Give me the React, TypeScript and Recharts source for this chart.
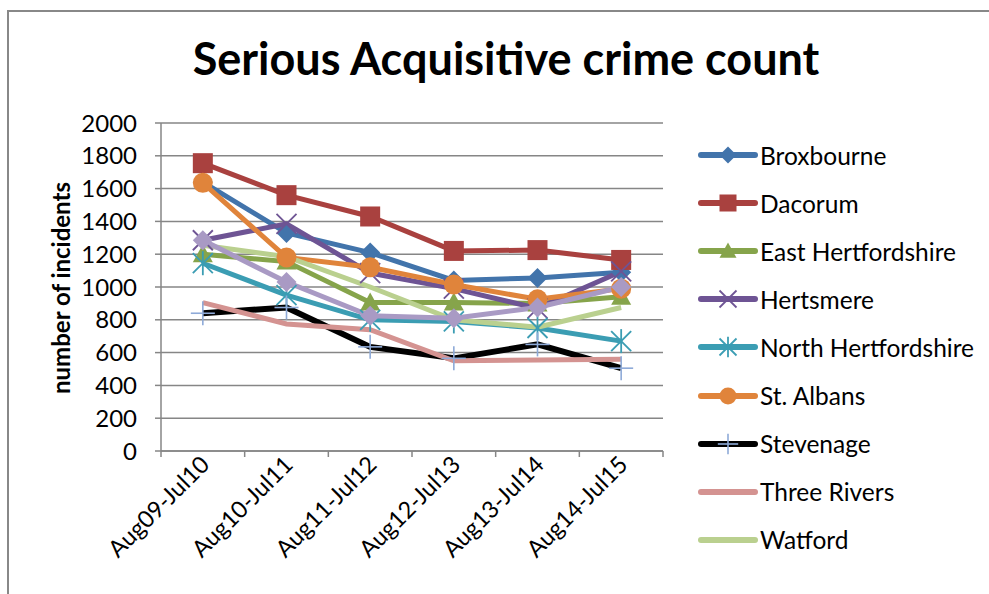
import React from 'react';
import { LineChart, Line, XAxis, YAxis, CartesianGrid } from 'recharts';

// categories and values
const periods = ['Aug09-Jul10', 'Aug10-Jul11', 'Aug11-Jul12', 'Aug12-Jul13', 'Aug13-Jul14', 'Aug14-Jul15'];
const yTicks = [0, 200, 400, 600, 800, 1000, 1200, 1400, 1600, 1800, 2000];

const broxbourne = [1640, 1330, 1210, 1040, 1055, 1090];
const dacorum = [1755, 1560, 1430, 1220, 1225, 1165];
const eastHerts = [1200, 1155, 905, 905, 900, 940];
const hertsmere = [1285, 1385, 1085, 990, 870, 1095];
const northHerts = [1145, 950, 800, 790, 750, 670];
const stAlbans = [1635, 1180, 1120, 1015, 925, 990];
const stevenage = [840, 875, 635, 565, 650, 505];
const threeRivers = [905, 775, 740, 550, 555, 560];
const watford = [1255, 1185, 1000, 800, 755, 875];
const welwynHatfield = [1285, 1030, 825, 810, 875, 1000];

type Shape = 'diamond' | 'square' | 'triangle' | 'x' | 'star' | 'circle' | 'plus' | 'none';

const series: { key: string; name: string; values: number[]; color: string; marker: Shape; markerColor: string; legend: boolean }[] = [
    { key: 'brox', name: 'Broxbourne', values: broxbourne, color: '#4274ab', marker: 'diamond', markerColor: '#4274ab', legend: true },
    { key: 'dac', name: 'Dacorum', values: dacorum, color: '#a9413f', marker: 'square', markerColor: '#a9413f', legend: true },
    { key: 'east', name: 'East Hertfordshire', values: eastHerts, color: '#86a44b', marker: 'triangle', markerColor: '#86a44b', legend: true },
    { key: 'herts', name: 'Hertsmere', values: hertsmere, color: '#6e5494', marker: 'x', markerColor: '#6e5494', legend: true },
    { key: 'north', name: 'North Hertfordshire', values: northHerts, color: '#3b9db3', marker: 'star', markerColor: '#3b9db3', legend: true },
    { key: 'stal', name: 'St. Albans', values: stAlbans, color: '#e0843b', marker: 'circle', markerColor: '#e0843b', legend: true },
    { key: 'stev', name: 'Stevenage', values: stevenage, color: '#000000', marker: 'plus', markerColor: '#8eaad8', legend: true },
    { key: 'three', name: 'Three Rivers', values: threeRivers, color: '#d49391', marker: 'none', markerColor: '#d49391', legend: true },
    { key: 'wat', name: 'Watford', values: watford, color: '#bad08f', marker: 'none', markerColor: '#bad08f', legend: true },
    { key: 'wel', name: 'Welwyn Hatfield', values: welwynHatfield, color: '#a99ac4', marker: 'diamond', markerColor: '#a99ac4', legend: false },
];

const data = periods.map((p, i) => {
    const row: Record<string, string | number> = { period: p };
    series.forEach((s) => { row[s.key] = s.values[i]; });
    return row;
});

const W = 989;
const H = 594;
const M = { top: 123, right: 326, left: 81, bottom: 43 };
const Y_W = 80;
const X_H = 100;
const BAND = (W - M.left - Y_W - M.right) / periods.length;
const FONT = 'Lato, "Open Sans", sans-serif';

const Marker = ({ shape, cx, cy, color, big = 1 }: { shape: Shape; cx: number; cy: number; color: string; big?: number }) => {
    const s = 10 * big;
    switch (shape) {
        case 'diamond':
            return <polygon points={`${cx},${cy - s} ${cx + s},${cy} ${cx},${cy + s} ${cx - s},${cy}`} fill={color} />;
        case 'square':
            return <rect x={cx - s} y={cy - s} width={2 * s} height={2 * s} fill={color} />;
        case 'triangle':
            return <polygon points={`${cx},${cy - s} ${cx + s},${cy + s * 0.8} ${cx - s},${cy + s * 0.8}`} fill={color} />;
        case 'circle':
            return <circle cx={cx} cy={cy} r={s} fill={color} />;
        case 'x':
            return (
                <g stroke={color} strokeWidth={1.8}>
                    <line x1={cx - s} y1={cy - s} x2={cx + s} y2={cy + s} />
                    <line x1={cx - s} y1={cy + s} x2={cx + s} y2={cy - s} />
                </g>
            );
        case 'star':
            return (
                <g stroke={color} strokeWidth={1.8}>
                    <line x1={cx - s} y1={cy - s} x2={cx + s} y2={cy + s} />
                    <line x1={cx - s} y1={cy + s} x2={cx + s} y2={cy - s} />
                    <line x1={cx} y1={cy - s * 1.2} x2={cx} y2={cy + s * 1.2} />
                </g>
            );
        case 'plus':
            return (
                <g stroke={color} strokeWidth={1.6}>
                    <line x1={cx - s * 1.2} y1={cy} x2={cx + s * 1.2} y2={cy} />
                    <line x1={cx} y1={cy - s * 1.2} x2={cx} y2={cy + s * 1.2} />
                </g>
            );
        default:
            return null;
    }
};

const XTick = (props: any) => {
    const { x, y, payload, index } = props;
    return (
        <g>
            <line x1={x - BAND / 2} y1={y - 8} x2={x - BAND / 2} y2={y - 2} stroke="#868686" strokeWidth={1.5} />
            {index === periods.length - 1 && (
                <line x1={x + BAND / 2} y1={y - 8} x2={x + BAND / 2} y2={y - 2} stroke="#868686" strokeWidth={1.5} />
            )}
            <text
                x={x + 8}
                y={y + 7}
                textAnchor="end"
                fontSize={23.5}
                fontFamily={FONT}
                fill="#000"
                transform={`rotate(-45, ${x + 8}, ${y + 7})`}
            >
                {payload.value}
            </text>
        </g>
    );
};

const LegendBox = () => (
    <div style={{ fontFamily: FONT, fontSize: 24.5, color: '#000' }}>
        {series.filter((s) => s.legend).map((s) => (
            <div key={s.key} style={{ display: 'flex', alignItems: 'center', height: 48.1 }}>
                <svg width={60} height={30} style={{ display: 'block' }}>
                    <line x1={3} y1={15} x2={57} y2={15} stroke={s.color} strokeWidth={6} strokeLinecap="round" />
                    <Marker shape={s.marker} cx={30} cy={15} color={s.markerColor} big={0.85} />
                </svg>
                <span style={{ marginLeft: 2, whiteSpace: 'nowrap' }}>{s.name}</span>
            </div>
        ))}
    </div>
);

export default function App() {
    return (
        <div style={{ position: 'fixed', left: 0, top: 0, width: W, height: H, background: '#fff', overflow: 'hidden' }}>
            <div
                style={{
                    position: 'absolute', left: 0, width: 1012, top: 31, textAlign: 'center',
                    fontFamily: FONT, fontWeight: 700, fontSize: 45, color: '#000',
                }}
            >
                Serious Acquisitive crime count
            </div>
            <div style={{ position: 'absolute', left: 60, top: 288, width: 0, height: 0 }}>
                <div
                    style={{
                        position: 'absolute', left: 0, top: 0, transform: 'translate(-50%, -50%) rotate(-90deg)',
                        fontFamily: FONT, fontWeight: 700, fontSize: 24, whiteSpace: 'nowrap', color: '#000',
                    }}
                >
                    number of incidents
                </div>
            </div>
            <div style={{ position: 'absolute', left: 0, top: 0 }}>
                <LineChart width={W} height={H} data={data} margin={M}>
                    <CartesianGrid vertical={false} stroke="#868686" strokeWidth={1.5} />
                    <XAxis
                        dataKey="period"
                        height={X_H}
                        interval={0}
                        padding={{ left: BAND / 2, right: BAND / 2 }}
                        axisLine={{ stroke: '#868686', strokeWidth: 1.5 }}
                        tickLine={false}
                        tick={<XTick />}
                    />
                    <YAxis
                        width={Y_W}
                        domain={[0, 2000]}
                        ticks={yTicks}
                        interval={0}
                        axisLine={{ stroke: '#868686', strokeWidth: 1.5 }}
                        tickLine={{ stroke: '#868686', strokeWidth: 1.5 }}
                        tickSize={6}
                        tickMargin={18}
                        tick={{ fontSize: 24, fill: '#000', fontFamily: FONT }}
                    />
                    {series.map((s) => (
                        <Line
                            key={s.key}
                            dataKey={s.key}
                            name={s.name}
                            type="linear"
                            stroke={s.color}
                            strokeWidth={s.key === 'stev' ? 6 : 5}
                            isAnimationActive={false}
                            dot={(p: any) => (
                                <g key={`${s.key}-${p.index}`}>
                                    <Marker shape={s.marker} cx={p.cx} cy={p.cy} color={s.markerColor} />
                                </g>
                            )}
                            activeDot={false}
                        />
                    ))}
                </LineChart>
            </div>
            <div style={{ position: 'absolute', left: 698, top: 131 }}>
                <LegendBox />
            </div>
            <div style={{ position: 'absolute', left: 7, top: 10, width: 2, height: H, background: '#888' }} />
            <div style={{ position: 'absolute', left: 7, top: 10, width: W, height: 2, background: '#888' }} />
        </div>
    );
}
